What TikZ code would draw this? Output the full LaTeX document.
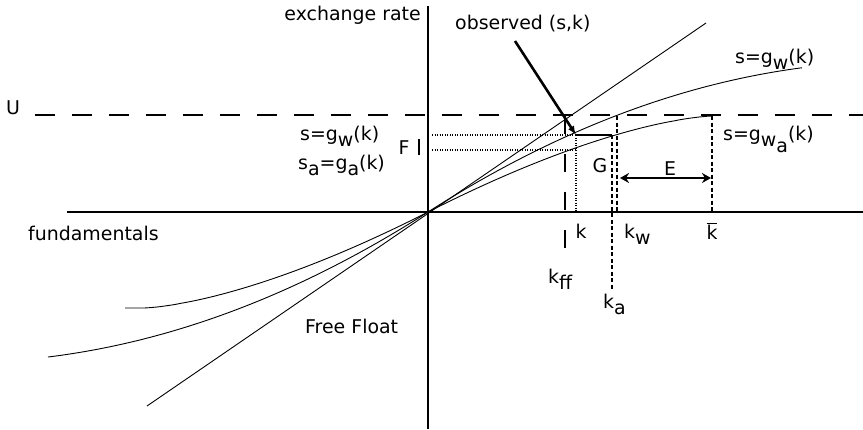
\documentclass[tikz,border=0pt]{standalone}
\usepackage{fontspec}
\setmainfont{DejaVu Sans}
\usetikzlibrary{arrows.meta}
\newcommand\lowr[1]{\raisebox{-0.32em}{#1}}
\begin{document}
\begin{tikzpicture}[x=1bp,y=-1bp,
  font=\fontsize{19}{22}\selectfont,
  lbl/.style={inner sep=0pt},
  axisline/.style={line width=1.5bp},
  curveline/.style={line width=0.9bp},
  ulinestyle/.style={line width=1.7bp, dash pattern=on 20bp off 17bp},
  dotline/.style={line width=2.4bp, dash pattern=on 1.4bp off 1.1bp},
  shortdash/.style={line width=1.8bp, dash pattern=on 4bp off 2.5bp},
  bigdash/.style={line width=1.6bp, dash pattern=on 18bp off 20bp},
  pointer/.style={line width=2.6bp, -{Latex[length=9bp,width=7bp]}},
  dblarrow/.style={line width=1.6bp, {Stealth[length=9bp,width=10bp]}-{Stealth[length=9bp,width=10bp]}}
]
\useasboundingbox (0,0) rectangle (863,429);
\fill[white] (0,0) rectangle (863,429);

% coordinates
\coordinate (O) at (428,212);
\coordinate (xl) at (67,212);
\coordinate (xr) at (863,212);
\coordinate (yt) at (428,6);
\coordinate (yb) at (428,429);
\coordinate (ul) at (35,115);
\coordinate (ur) at (863,115);
\coordinate (ffa) at (147,406);
\coordinate (ffb) at (706,23);
\coordinate (obs) at (576,135);
\coordinate (obsfrom) at (515,41);
\coordinate (sa) at (576,150);
\coordinate (dl1) at (432,135);
\coordinate (dl2) at (432,150);
\coordinate (kaTop) at (612,135);
\coordinate (kaBot) at (612,290);
\coordinate (kTop) at (576,135);
\coordinate (kBot) at (576,212);
\coordinate (kwTop) at (617,116);
\coordinate (kwBot) at (617,212);
\coordinate (kffTop) at (565,116);
\coordinate (kffBot) at (565,250);
\coordinate (kbTop) at (712,116);
\coordinate (kbBot) at (712,212);
\coordinate (eL) at (620,178);
\coordinate (eR) at (711,178);
\coordinate (fT) at (419,139);
\coordinate (fB) at (419,155);

% axes
\draw[axisline] (xl) -- (xr);
\draw[axisline] (yt) -- (yb);
% U line
\draw[ulinestyle] (ul) -- (ur);

% free float
\draw[curveline] (ffa) -- (ffb);
% g_w curve (x in hundreds of px)
\draw[curveline] plot[domain=-3.80:3.74, samples=120] ({428+100*\x},{212-(64*\x-6.8*\x*abs(\x))});
% g_wa curve
\draw[curveline] plot[domain=-3.03:2.83, samples=150]
  ({428+100*\x},{212-96*sign(\x)*(1-(1-min(abs(\x)/2.85,0.999))^1.51)});

% dotted horizontal lines
\draw[dotline] (dl1) -- (obs);
\draw[dotline] (dl2) -- (sa);
\draw[line width=1.3bp] (obs) -- (kaTop);
% verticals
\draw[dotline] (kTop) -- (kBot);
\draw[shortdash] (kaTop) -- (kaBot);
\draw[shortdash] (kwTop) -- (kwBot);
\draw[shortdash] (kbTop) -- (kbBot);
\draw[bigdash] (kffTop) -- (kffBot);
% F tick
\draw[line width=1.8bp] (fT) -- (fB);
% E arrow
\draw[dblarrow] (eL) -- (eR);
% observed pointer
\draw[pointer] (obsfrom) -- (obs);

% labels
\node[lbl, anchor=base east] (lexr) at (421,20) {exchange rate};
\node[lbl, anchor=base west] (lobs) at (455,29) {observed (s,k)};
\node[lbl, anchor=base west] (lgw) at (735,63) {s=g\lowr{w}(k)};
\node[lbl, anchor=base west] (lgwa) at (723,140) {s=g\lowr{w\lowr{a}}(k)};
\node[lbl, anchor=base west] (lgwl) at (300,140) {s=g\lowr{w}(k)};
\node[lbl, anchor=base west] (lsa) at (298,169) {s\lowr{a}=g\lowr{a}(k)};
\node[lbl, anchor=base] (lF) at (404,154) {F};
\node[lbl, anchor=base] (lU) at (13,114) {U};
\node[lbl, anchor=base] (lG) at (600,172) {G};
\node[lbl, anchor=base] (lE) at (670,175) {E};
\node[lbl, anchor=base] (lk) at (581,238) {k};
\node[lbl, anchor=base west] (lkw) at (624,238) {k\lowr{w}};
\node[lbl, anchor=base] (lkb) at (712,239) {$\overline{\hbox{k}}$};
\node[lbl, anchor=base west] (lkff) at (548,283) {k\lowr{ff}};
\node[lbl, anchor=base west] (lka) at (603,308) {k\lowr{a}};
\node[lbl, anchor=base west] (lfund) at (28,240) {fundamentals};
\node[lbl, anchor=base west] (lfree) at (305,333) {Free Float};
\end{tikzpicture}
\end{document}
